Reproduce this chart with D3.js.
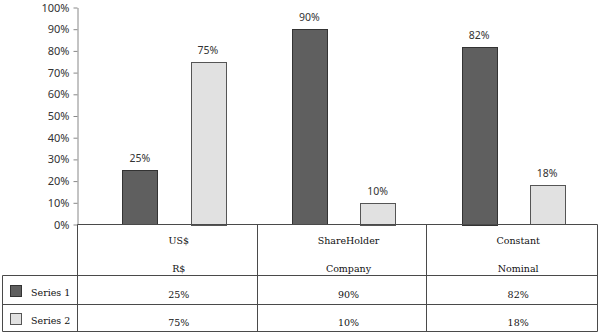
<!DOCTYPE html>
<html>
<head>
<meta charset="utf-8">
<script src="https://cdn.jsdelivr.net/npm/d3@7"></script>
<style>
  body { margin: 0; background: #fff; }
</style>
</head>
<body>
<script>
// chart data
const categories = ["US$", "ShareHolder", "Constant"];
const subLabels = ["R$", "Company", "Nominal"];
const seriesNames = ["Series 1", "Series 2"];
const series1 = [0.25, 0.90, 0.82];
const series2 = [0.75, 0.10, 0.18];
const yTicks = [0, 0.1, 0.2, 0.3, 0.4, 0.5, 0.6, 0.7, 0.8, 0.9, 1.0];

const width = 602;
const height = 335;
const axisX = 77.5;
const plot = { top: 7.5, bottom: 224.5, right: 597.5 };
const rows = { header: 275.5, s1: 304.5, s2: 331.5 };
const legendLeft = 2.5;

const fills = ["#5f5f5f", "#e1e1e1"];
const strokes = ["#333", "#555"];
const lineColor = "#4a4a4a";
const sans = "'Noto Sans', sans-serif";
const serif = "'DejaVu Serif', serif";

const svg = d3.select("body")
  .append("svg")
  .attr("width", width)
  .attr("height", height);

// scales
const xScale = d3.scaleBand()
  .domain(categories)
  .range([89, 598]);

const xInner = d3.scaleBand()
  .domain(seriesNames)
  .range([0, xScale.bandwidth()])
  .padding(0.49);

const yScale = d3.scaleLinear()
  .domain([0, 1])
  .range([plot.bottom, plot.top]);

const values = [series1, series2];

// y axis
svg.append("g")
  .attr("transform", `translate(${axisX},0)`)
  .call(d3.axisLeft(yScale)
    .tickValues(yTicks)
    .tickFormat(d3.format(".0%"))
    .tickSize(4)
    .tickSizeOuter(0)
    .tickPadding(4))
  .call(g => g.selectAll("path, line").attr("stroke", "#888"))
  .call(g => g.selectAll("text")
    .attr("fill", "#333")
    .style("font-family", sans)
    .style("font-size", "11px"));

// bars and value labels
seriesNames.forEach((name, si) => {
  const g = svg.append("g");
  g.selectAll("rect")
    .data(values[si])
    .join("rect")
    .attr("x", (d, i) => Math.round(xScale(categories[i]) + xInner(name)) + 0.5)
    .attr("y", d => Math.round(yScale(d)) + 0.5)
    .attr("width", Math.round(xInner.bandwidth()))
    .attr("height", d => Math.round(yScale(0) - yScale(d)))
    .attr("fill", fills[si])
    .attr("stroke", strokes[si])
    .attr("stroke-width", 1);

  g.selectAll("text")
    .data(values[si])
    .join("text")
    .attr("x", (d, i) => xScale(categories[i]) + xInner(name) + xInner.bandwidth() / 2)
    .attr("y", d => yScale(d) - 8)
    .attr("text-anchor", "middle")
    .attr("fill", "#333")
    .style("font-family", sans)
    .style("font-size", "10.5px")
    .text(d => d3.format(".0%")(d));
});

// data table grid
const grid = svg.append("g")
  .attr("stroke", lineColor)
  .attr("stroke-width", 1)
  .attr("fill", "none");

// column boundaries from the category bands
const colEdges = categories.map((c, i) => i === 0 ? axisX : Math.round(xScale(c)) - 1.5);
colEdges.push(plot.right);

grid.append("line")
  .attr("x1", axisX).attr("x2", plot.right)
  .attr("y1", plot.bottom).attr("y2", plot.bottom);
[rows.header, rows.s1, rows.s2].forEach(y => {
  grid.append("line")
    .attr("x1", legendLeft).attr("x2", plot.right)
    .attr("y1", y).attr("y2", y);
});
colEdges.forEach(x => {
  grid.append("line")
    .attr("x1", x).attr("x2", x)
    .attr("y1", plot.bottom).attr("y2", rows.s2);
});
grid.append("line")
  .attr("x1", legendLeft).attr("x2", legendLeft)
  .attr("y1", rows.header).attr("y2", rows.s2);

// table text
const cellX = c => xScale(c) + xScale.bandwidth() / 2 + 5;

function cellText(x, y, txt) {
  svg.append("text")
    .attr("x", x)
    .attr("y", y)
    .attr("text-anchor", "middle")
    .attr("fill", "#111")
    .style("font-family", serif)
    .style("font-size", "9.5px")
    .text(txt);
}

categories.forEach((c, i) => {
  cellText(cellX(c), 244, c);
  cellText(cellX(c), 272, subLabels[i]);
  cellText(cellX(c), 297.5, d3.format(".0%")(series1[i]));
  cellText(cellX(c), 326, d3.format(".0%")(series2[i]));
});

// legend keys
const rowY = [rows.header, rows.s1];
const rowH = [rows.s1 - rows.header, rows.s2 - rows.s1];
seriesNames.forEach((name, si) => {
  const mid = rowY[si] + rowH[si] / 2;
  svg.append("rect")
    .attr("x", 10.5)
    .attr("y", Math.round(mid - 5.5) + 0.5)
    .attr("width", 11)
    .attr("height", 11)
    .attr("fill", fills[si])
    .attr("stroke", strokes[si]);
  svg.append("text")
    .attr("x", 31)
    .attr("y", mid + 6)
    .attr("fill", "#111")
    .style("font-family", serif)
    .style("font-size", "9.5px")
    .text(name);
});
</script>
</body>
</html>
